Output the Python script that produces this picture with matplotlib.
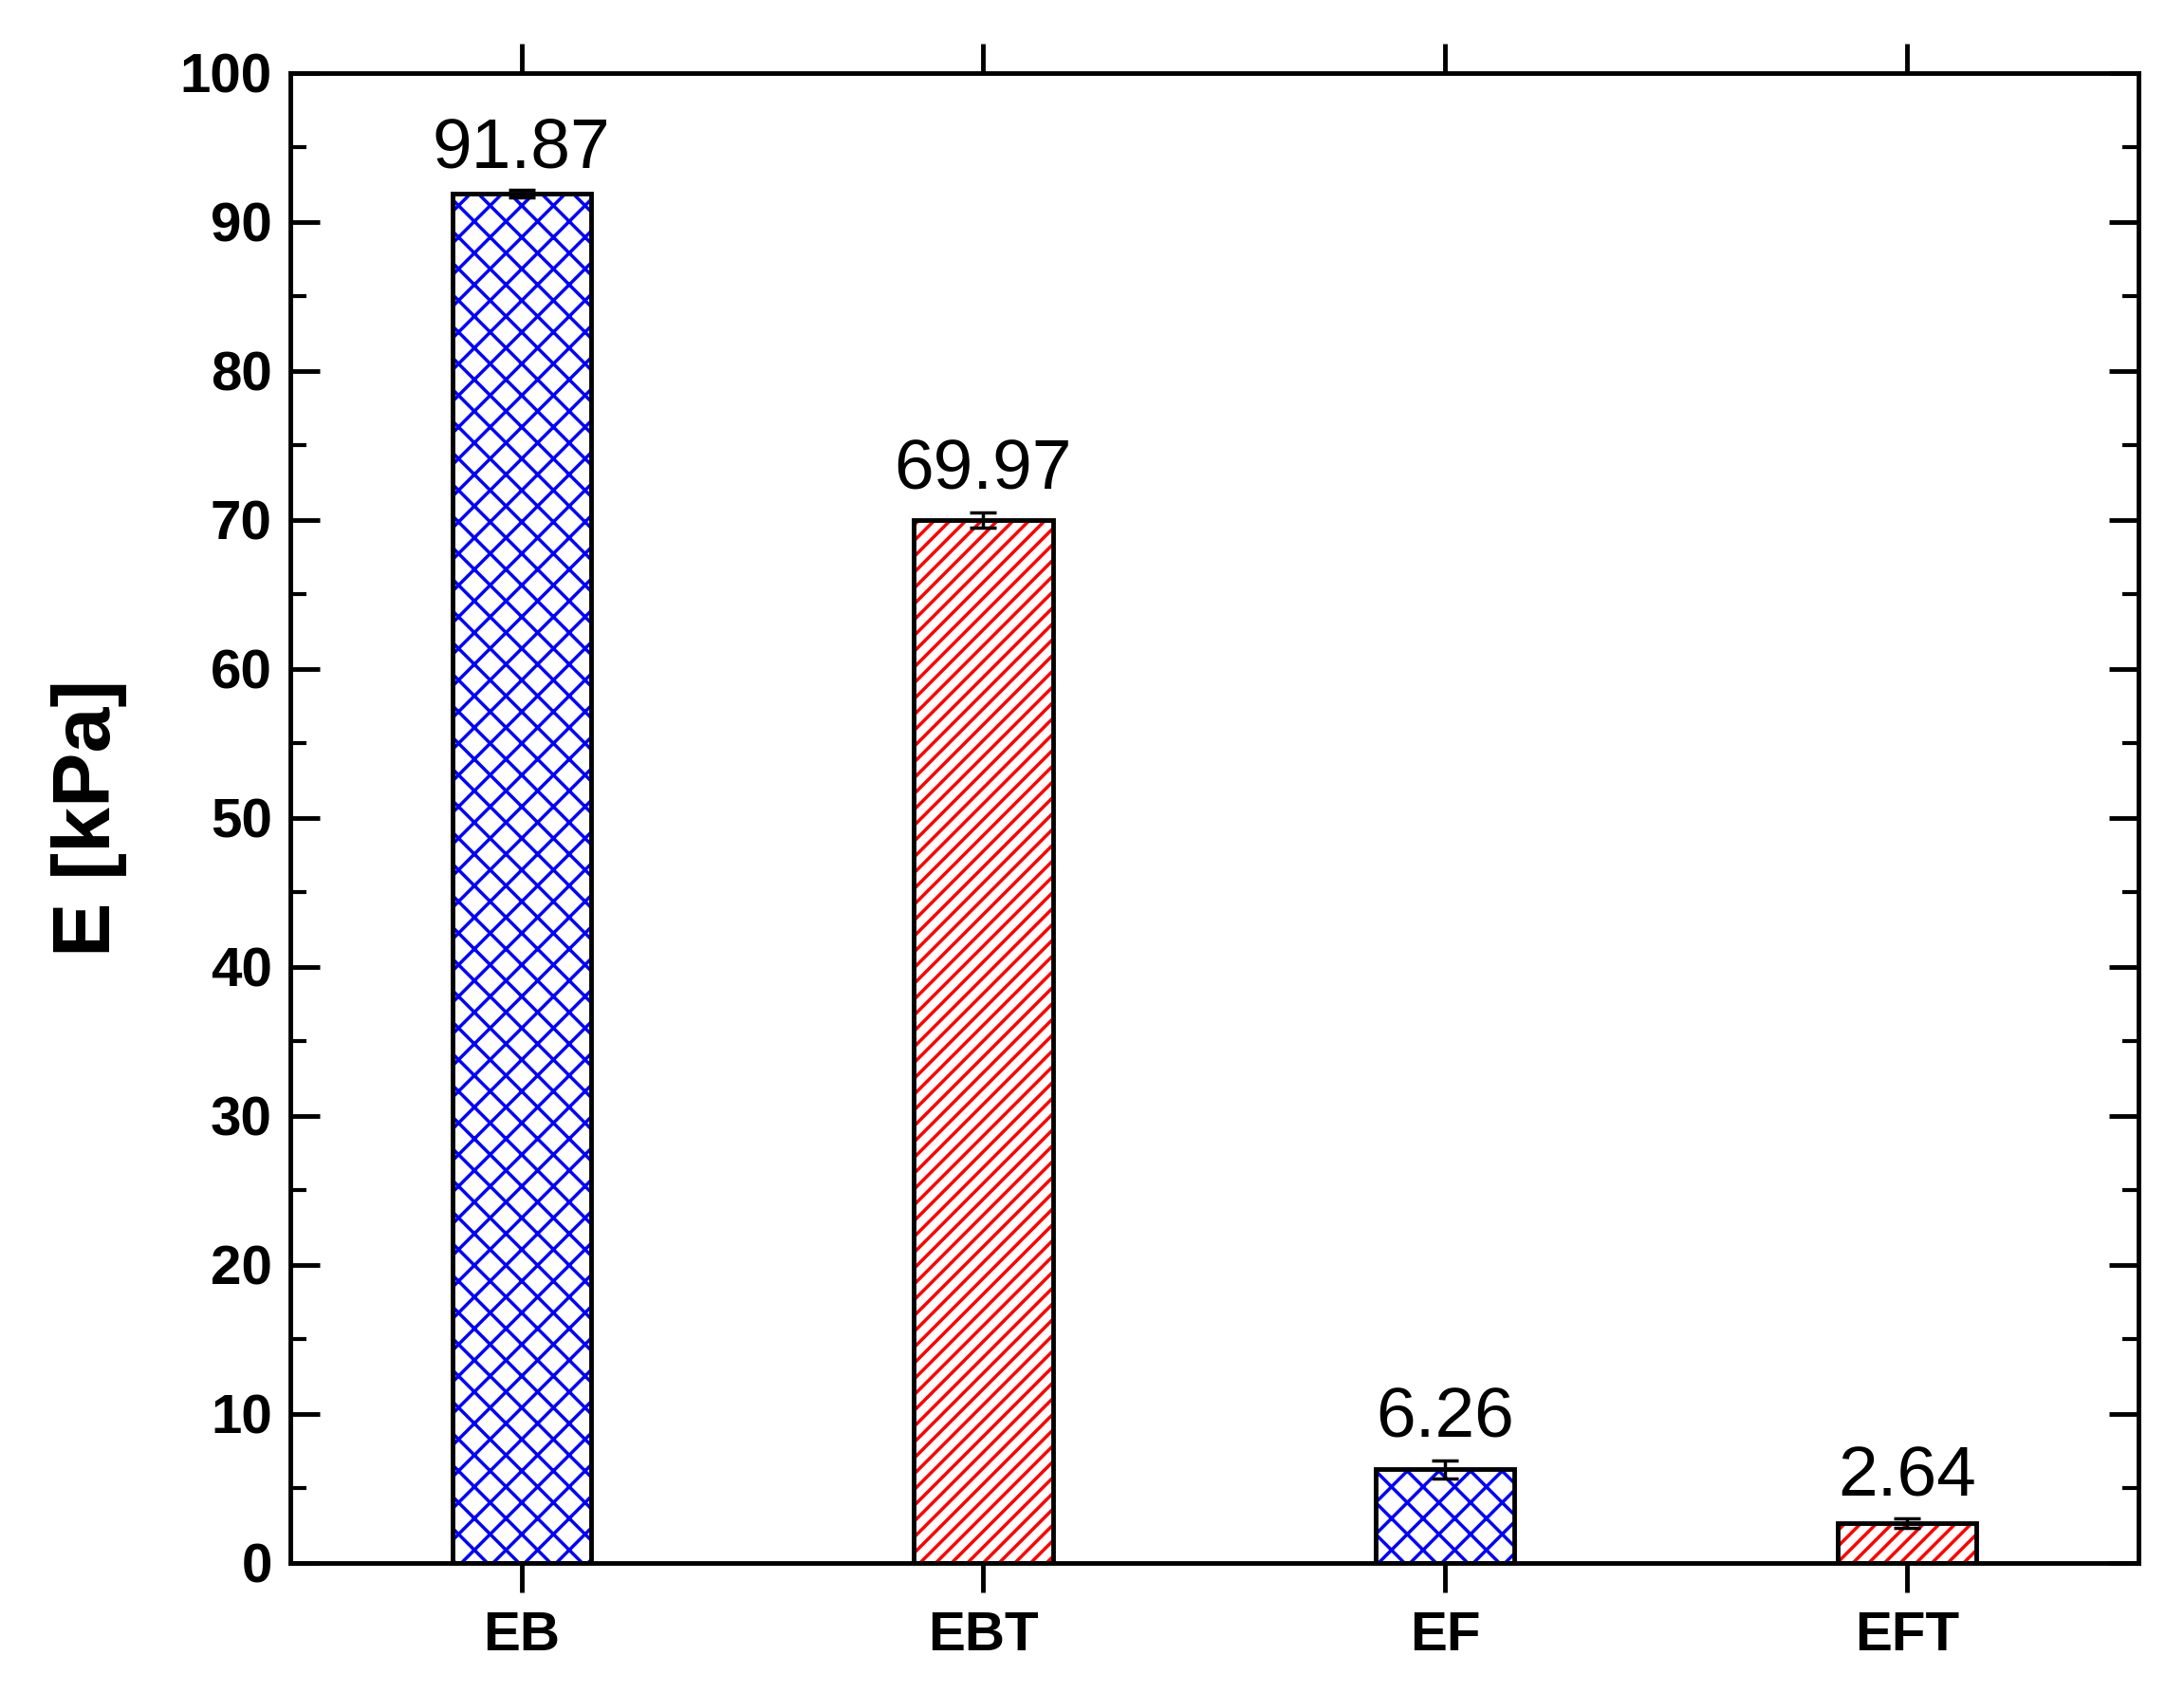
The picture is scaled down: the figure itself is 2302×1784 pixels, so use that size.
import matplotlib
matplotlib.use("Agg")
import matplotlib.pyplot as plt
from matplotlib.ticker import MultipleLocator

categories = ["EB", "EBT", "EF", "EFT"]
values = [91.87, 69.97, 6.26, 2.64]
errors = [0.25, 0.5, 0.6, 0.3]
labels = ["91.87", "69.97", "6.26", "2.64"]
colors = ["#0000ff", "#ff0000", "#0000ff", "#ff0000"]
hatches = ["x", "//", "x", "//"]

plt.rcParams['font.family'] = ['Liberation Sans', 'DejaVu Sans']
plt.rcParams['hatch.linewidth'] = 2.5

fig = plt.figure(figsize=(23.02, 17.84), dpi=100)
ax = fig.add_axes([0.133, 0.077, 0.846, 0.88])
x = list(range(len(categories)))
for i in x:
    ax.bar(i, values[i], width=0.3, facecolor="white", edgecolor=colors[i],
           hatch=hatches[i], linewidth=0, zorder=2)
    ax.bar(i, values[i], width=0.3, facecolor="none", edgecolor="black",
           linewidth=3.5, zorder=3)
ax.errorbar(x, values, yerr=errors, fmt="none", ecolor="black",
            capsize=10, elinewidth=2.5, capthick=2.5, zorder=4)
for i in x:
    ax.text(i, values[i] + errors[i] + 0.6, labels[i], ha="center", va="bottom",
            fontsize=54)

ax.set_xlim(-0.5, 3.5)
ax.set_ylim(0, 100)
ax.set_xticks(x)
ax.set_xticklabels(categories, fontsize=42, fontweight="bold")
ax.yaxis.set_major_locator(MultipleLocator(10))
ax.yaxis.set_minor_locator(MultipleLocator(5))
for t in ax.get_yticklabels():
    t.set_fontsize(42); t.set_fontweight("bold")
ax.tick_params(axis="both", which="major", direction="in", length=22, width=3.5,
               top=True, right=True, pad=14)
ax.tick_params(axis="y", which="minor", direction="in", length=12, width=3, right=True)
ax.tick_params(axis="x", which="major", direction="out", bottom=True)
for s in ax.spines.values():
    s.set_linewidth(3.5)
ax.set_ylabel("E [kPa]", fontsize=62, fontweight="bold", labelpad=40)
fig.savefig("out.png", dpi=100)
